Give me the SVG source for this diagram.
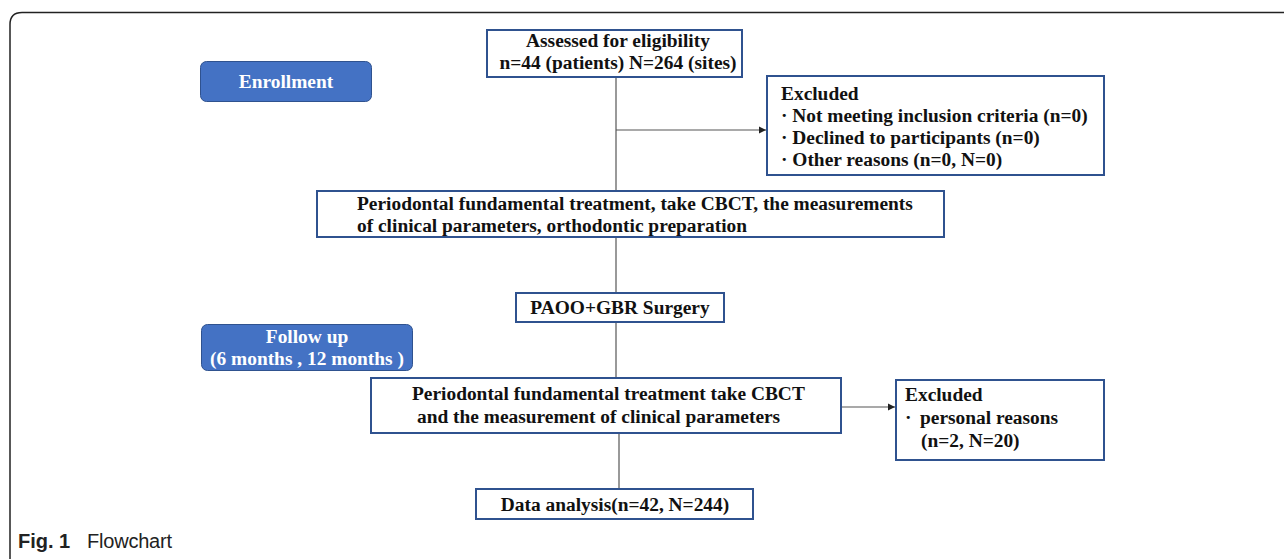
<svg xmlns="http://www.w3.org/2000/svg" width="1284" height="559" viewBox="0 0 1284 559">
<defs>
<style>
.box{fill:#fff;stroke:#2f528f;stroke-width:2}
.blue{fill:#4472c4;stroke:#2f528f;stroke-width:1}
.t{font-family:"Liberation Serif","Times New Roman",serif;font-weight:bold;font-size:19.4px;fill:#111}
.w{font-family:"Liberation Serif","Times New Roman",serif;font-weight:bold;font-size:19.4px;fill:#fff}
.ln{stroke:#555;stroke-width:1.2;fill:none}
.cap{font-family:"Liberation Sans",Arial,sans-serif;font-size:20px;fill:#222}
</style>
<marker id="ah" markerWidth="8" markerHeight="8" refX="7" refY="4" orient="auto" markerUnits="userSpaceOnUse">
<path d="M0,0.5 L7,4 L0,7.5 z" fill="#222"/>
</marker>
</defs>
<rect width="1284" height="559" fill="#fff"/>
<path d="M1284,12.5 H22 Q10,12.5 10,24.5 V559" fill="none" stroke="#222" stroke-width="1.5"/>

<g id="connectors">
<line class="ln" x1="616" y1="77" x2="616" y2="191"/>
<line class="ln" x1="616" y1="130" x2="766" y2="130" marker-end="url(#ah)"/>
<line class="ln" x1="616" y1="237" x2="616" y2="293"/>
<line class="ln" x1="616" y1="322" x2="616" y2="378"/>
<line class="ln" x1="619" y1="433" x2="619" y2="489"/>
<line class="ln" x1="841" y1="407" x2="895" y2="407" marker-end="url(#ah)"/>
</g>

<g id="enrollment">
<rect class="blue" x="200.5" y="61.5" width="171" height="40" rx="6"/>
<text class="w" x="286" y="88" text-anchor="middle">Enrollment</text>
</g>

<g id="followup">
<rect class="blue" x="201.5" y="324.5" width="211" height="46" rx="6"/>
<text class="w" x="307" y="343" text-anchor="middle">Follow up</text>
<text class="w" x="307" y="365" text-anchor="middle">(6 months , 12 months )</text>
</g>

<g id="assessed">
<rect class="box" x="487" y="30" width="255" height="47"/>
<text class="t" x="618" y="47" text-anchor="middle">Assessed for eligibility</text>
<text class="t" x="618" y="69" text-anchor="middle">n=44 (patients) N=264 (sites)</text>
</g>

<g id="excluded1">
<rect class="box" x="767" y="76" width="337" height="99"/>
<text class="t" x="781" y="100">Excluded</text>
<text class="t" x="781" y="122">· Not meeting inclusion criteria (n=0)</text>
<text class="t" x="781" y="144">· Declined to participants (n=0)</text>
<text class="t" x="781" y="166">· Other reasons (n=0, N=0)</text>
</g>

<g id="periodontal1">
<rect class="box" x="317" y="191" width="627" height="46"/>
<text class="t" x="357" y="210">Periodontal fundamental treatment, take CBCT, the measurements</text>
<text class="t" x="357" y="232">of clinical parameters, orthodontic preparation</text>
</g>

<g id="paoo">
<rect class="box" x="516" y="293" width="208" height="29"/>
<text class="t" x="620" y="314" text-anchor="middle">PAOO+GBR Surgery</text>
</g>

<g id="periodontal2">
<rect class="box" x="371" y="378" width="470" height="55"/>
<text class="t" x="412" y="400">Periodontal fundamental treatment take CBCT</text>
<text class="t" x="417" y="423">and the measurement of clinical parameters</text>
</g>

<g id="excluded2">
<rect class="box" x="896" y="380" width="208" height="80"/>
<text class="t" x="905" y="401">Excluded</text>
<text class="t" x="905" y="424">·<tspan x="920">personal reasons</tspan></text>
<text class="t" x="921" y="447">(n=2, N=20)</text>
</g>

<g id="data">
<rect class="box" x="476" y="489" width="277" height="30"/>
<text class="t" x="615" y="511" text-anchor="middle">Data analysis(n=42, N=244)</text>
</g>

<text class="cap" x="18" y="548" font-weight="bold">Fig. 1</text>
<text class="cap" x="87" y="548" font-weight="300" textLength="85">Flowchart</text>
</svg>
